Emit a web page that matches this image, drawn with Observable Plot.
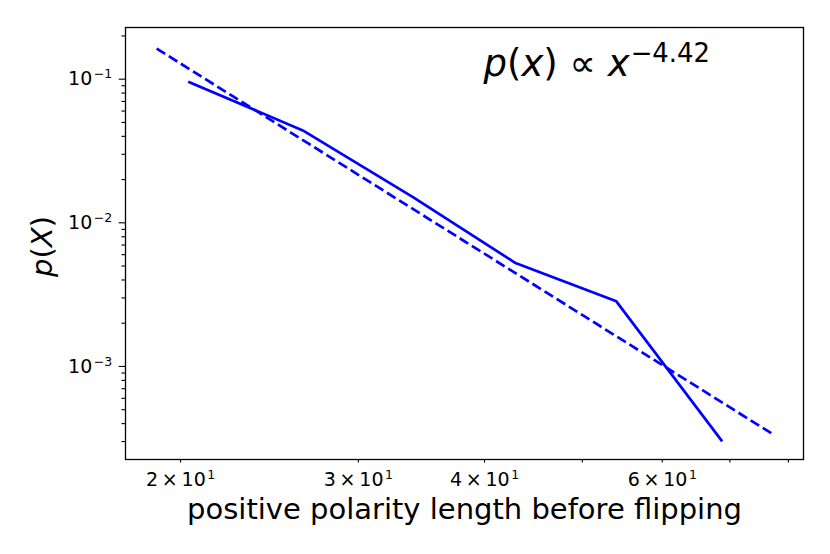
<!DOCTYPE html>
<html>
<head>
<meta charset="utf-8">
<script src="https://cdn.jsdelivr.net/npm/d3@7"></script>
<script src="https://cdn.jsdelivr.net/npm/@observablehq/plot@0.6"></script>
<style>
  html, body { margin: 0; padding: 0; background: #ffffff; }
  svg { display: block; }
</style>
</head>
<body>
<div id="chart"></div>
<script>
// Empirical distribution (solid line)
const lengths = [20.41, 26.43, 34.01, 42.93, 54.03, 68.66];
const probabilities = [0.0953, 0.0440, 0.01503, 0.00525, 0.00284, 0.000306];

// Power-law fit (dashed line) end points
const fitLengths = [18.94, 77.13];
const fitProbabilities = [0.1633, 0.000339];

// Ticks
const xTickValues = [20, 30, 40, 60];
const xTickLabels = ["2\u2009×\u200910^1", "3\u2009×\u200910^1", "4\u2009×\u200910^1", "6\u2009×\u200910^1"];
const xMinorTicks = [50, 70, 80];
const yTickValues = [1e-1, 1e-2, 1e-3];
const yTickLabels = ["10^\u22121", "10^\u22122", "10^\u22123"];
const yMinorTicks = [3e-4, 4e-4, 5e-4, 6e-4, 7e-4, 8e-4, 9e-4,
                     2e-3, 3e-3, 4e-3, 5e-3, 6e-3, 7e-3, 8e-3, 9e-3,
                     2e-2, 3e-2, 4e-2, 5e-2, 6e-2, 7e-2, 8e-2, 9e-2,
                     2e-1];

// Texts
const xLabel = "positive polarity length before flipping";
const yLabel = "p(X)";
const annotation = "p(x) \u221D x^\u22124.42";

const empirical = lengths.map((x, i) => ({x, p: probabilities[i]}));
const fit = fitLengths.map((x, i) => ({x, p: fitProbabilities[i]}));
const xLabelMap = new Map(xTickValues.map((v, i) => [v, xTickLabels[i]]));
const yLabelMap = new Map(yTickValues.map((v, i) => [v, yTickLabels[i]]));

const svg = Plot.plot({
  width: 830,
  height: 554,
  marginLeft: 125,
  marginRight: 27,
  marginTop: 27,
  marginBottom: 95,
  style: {fontFamily: "DejaVu Sans", color: "black", background: "white", overflow: "visible"},
  x: {type: "log", domain: [17.64, 82.8]},
  y: {type: "log", domain: [2.25e-4, 0.229]},
  marks: [
    Plot.axisX(xTickValues, {anchor: "bottom", tickSize: 3.6, tickPadding: 9, fontSize: 19, strokeWidth: 1.1,
      tickFormat: d => xLabelMap.get(d), label: null}),
    Plot.axisX(xMinorTicks, {anchor: "bottom", tickSize: 3.6, strokeWidth: 1.1, tickFormat: () => "", label: null}),
    Plot.axisY(yTickValues, {anchor: "left", tickSize: 6.3, tickPadding: 7, fontSize: 19, strokeWidth: 1.1,
      tickFormat: d => yLabelMap.get(d), label: null}),
    Plot.axisY(yMinorTicks, {anchor: "left", tickSize: 3.6, strokeWidth: 1.1, tickFormat: () => "", label: null}),
    Plot.line(empirical, {x: "x", y: "p", stroke: "#0000ff", strokeWidth: 2.7,
      strokeLinecap: "square", strokeLinejoin: "round"}),
    Plot.line(fit, {x: "x", y: "p", stroke: "#0000ff", strokeWidth: 2.7,
      strokeDasharray: "10,4.3", strokeLinecap: "butt"}),
    Plot.frame({stroke: "black", strokeWidth: 1.3}),
    Plot.text([annotation], {text: d => d, frameAnchor: "top-left", textAnchor: "start", lineAnchor: "bottom",
      dx: 358, dy: 48, fontSize: 37, fill: "black"}),
    Plot.text([xLabel], {text: d => d, frameAnchor: "bottom", lineAnchor: "bottom", dy: 59, fontSize: 29, fill: "black"}),
    Plot.text([yLabel], {text: d => d, frameAnchor: "left", rotate: -90, lineAnchor: "bottom", textAnchor: "middle",
      dx: -74, dy: 3, fontSize: 29, fill: "black"})
  ]
});

// Math-like rendering of text (italic variables, superscripts)
function renderParts(el, parts, baseSize, supScale, supGap) {
  el.textContent = "";
  for (const [str, kind] of parts) {
    const ts = document.createElementNS("http://www.w3.org/2000/svg", "tspan");
    ts.textContent = str;
    if (kind === "i") ts.setAttribute("font-style", "italic");
    if (kind === "sup") {
      ts.setAttribute("font-size", (baseSize * supScale).toFixed(1) + "px");
      ts.setAttribute("dy", (-baseSize * 0.37).toFixed(1) + "px");
      ts.setAttribute("dx", supGap.toFixed(1) + "px");
    }
    el.appendChild(ts);
  }
}

d3.select(svg).selectAll("text").each(function () {
  const t = this.textContent;
  if (t === annotation) {
    renderParts(this, [["p", "i"], ["(", ""], ["x", "i"], [")", ""], [" \u221D ", ""], ["x", "i"], ["\u22124.42", "sup"]], 37, 0.7, 1);
  } else if (t === yLabel) {
    renderParts(this, [["p", "i"], ["(", ""], ["X", "i"], [")", ""]], 29, 0.7, 0);
  } else if (t.includes("^")) {
    const [base, exp] = t.split("^");
    renderParts(this, [[base, ""], [exp, "sup"]], 19, 0.66, 1.5);
  }
});

document.getElementById("chart").appendChild(svg);
</script>
</body>
</html>
